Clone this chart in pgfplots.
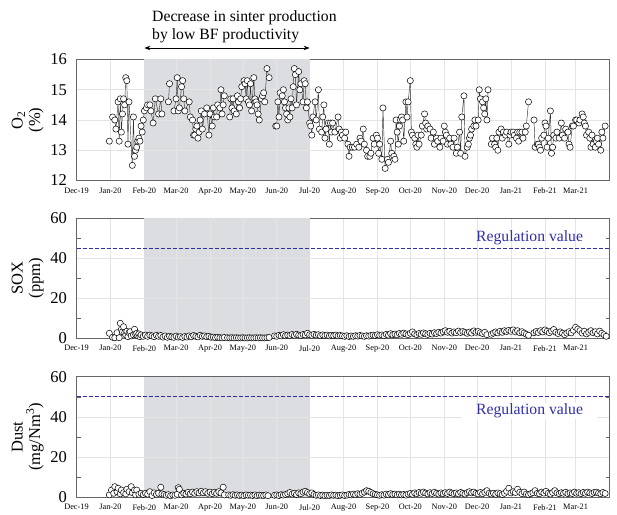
\documentclass[border=0pt]{standalone}
\usepackage{fontspec}
\setmainfont{Liberation Serif}
\usepackage{pgfplots}
\pgfplotsset{compat=1.18}
\usetikzlibrary{arrows.meta}

\definecolor{shade}{RGB}{220,221,224}
\definecolor{gridc}{RGB}{228,228,228}
\definecolor{regblue}{RGB}{48,48,160}

\pgfplotsset{
  panel/.style={
    scale only axis, width=533pt, clip=false,
    xmin=0, xmax=487,
    xtick={0,31,62,91,122,152,183,213,244,275,305,336,366,397,428,456},
    xticklabels={Dec-19,Jan-20,Feb-20,Mar-20,Apr-20,May-20,Jun-20,Jul-20,Aug-20,Sep-20,Oct-20,Nov-20,Dec-20,Jan-21,Feb-21,Mar-21},
    xticklabel style={font=\fontsize{8.3}{9}\selectfont, yshift=-3.5pt},
    yticklabel style={font=\fontsize{16.5}{17}\selectfont, xshift=-6pt},
    /pgf/number format/assume math mode=true,
    ylabel style={font=\fontsize{16.5}{17.5}\selectfont, align=center},
    grid=major, major grid style={draw=gridc, line width=0.7pt},
    axis line style={draw=black!60, line width=0.7pt},
    tick style={draw=black!60}, tick align=inside, major tick length=0pt,
    minor tick length=4pt,
    unbounded coords=jump,
  },
  series/.style={draw=black!80, line width=0.45pt, mark=*, mark size=3.1pt,
    mark options={fill=white, draw=black, line width=0.5pt}},
  band/.style={draw=none, fill=shade, mark=none},
}
% grid lines that run over the grey band: #1 ymin, #2 ymax, #3 y grid values
\newcommand{\bandgrid}[3]{%
  \pgfplotsinvokeforeach{91,122,152,183}{\draw[gridc, line width=0.7pt] (axis cs:##1,#1) -- (axis cs:##1,#2);}
  \pgfplotsinvokeforeach{#3}{\draw[gridc, line width=0.7pt] (axis cs:62,##1) -- (axis cs:213,##1);}
}

\begin{document}
\begin{tikzpicture}
\useasboundingbox (0pt,0pt) rectangle (617pt,514pt);

% ---- O2 ----
\begin{axis}[panel, at={(76.5pt,333.5pt)}, anchor=south west, height=121pt,
  ymin=12, ymax=16, ytick={12,13,14,15,16},
  ylabel={O\textsubscript{2}\\(\%)}]
\addplot[band] coordinates {(62,12) (62,16) (213,16) (213,12)};
\bandgrid{12}{16}{13,14,15}
\addplot[series] coordinates {
(30,13.3) (31,nan) (33,14.1) (35,14.0) (36,13.7) (38,14.6) (39,13.3) (40,14.7) (41,13.6) (42,14.2)
(43,14.7) (44,14.5) (45,15.4) (46,15.3) (47,13.2) (48,14.6) (51,12.5) (52,14.1) (53,12.8) (54,13.0)
(55,13.1) (56,13.3) (57,13.4) (58,13.3) (59,13.8) (60,13.6) (61,14.0) (62,14.3) (64,14.4) (65,14.5)
(67,14.5) (68,14.3) (70,13.9) (72,14.7) (75,14.2) (77,14.7) (78,14.2) (80,nan) (84,14.6) (85,15.2)
(87,nan) (89,14.3) (91,14.7) (92,15.4) (93,14.3) (94,14.4) (96,15.1) (97,15.3) (98,14.7) (99,14.3)
(103,14.6) (104,14.1) (106,14.0) (107,13.5) (108,13.5) (109,13.7) (110,13.8) (111,13.4) (112,13.6) (113,14.0)
(114,14.3) (115,13.7) (117,14.2) (119,14.4) (121,13.5) (122,14.2) (124,13.8) (125,14.4) (126,14.1) (128,14.1)
(129,14.5) (131,14.4) (132,15.0) (133,14.2) (134,14.5) (135,14.8) (137,nan) (140,14.1) (141,14.7) (142,14.4)
(143,14.7) (144,14.3) (146,14.2) (147,14.8) (148,14.6) (149,14.4) (150,14.7) (151,15.1) (153,15.3) (154,15.2)
(155,14.7) (156,15.3) (157,14.6) (158,14.5) (159,15.2) (160,14.3) (162,15.4) (163,14.7) (164,14.6) (165,14.5)
(166,14.2) (167,14.0) (169,14.7) (170,14.8) (171,14.9) (172,14.6) (174,15.7) (176,15.4) (178,nan) (182,13.8)
(183,13.8) (184,14.6) (185,14.1) (186,14.9) (188,14.8) (189,15.0) (190,14.6) (191,14.4) (192,14.2) (193,14.0)
(194,14.4) (195,14.1) (196,14.7) (197,14.4) (198,15.1) (199,15.7) (200,15.5) (201,14.5) (203,15.6) (204,15.0)
(205,15.2) (207,14.6) (208,15.3) (209,15.2) (210,14.4) (211,14.6) (213,13.9) (214,13.8) (215,13.5) (216,14.1)
(218,14.6) (219,14.0) (221,15.0) (222,13.7) (224,13.6) (225,14.1) (226,14.5) (227,13.4) (228,13.7) (230,13.9)
(231,13.2) (232,13.9) (233,13.6) (234,13.9) (236,13.6) (239,14.1) (240,13.7) (241,13.4) (242,13.6) (243,13.5)
(245,13.4) (246,13.6) (248,13.2) (249,12.8) (250,13.1) (252,13.1) (254,13.1) (256,13.2) (258,13.1) (259,13.4)
(260,13.3) (262,13.7) (263,13.2) (265,13.0) (266,12.8) (268,12.8) (269,12.9) (271,13.4) (272,13.2) (274,13.5)
(275,13.4) (276,12.9) (277,13.2) (279,12.7) (280,14.4) (282,12.4) (284,12.7) (285,12.6) (287,13.3) (288,12.9)
(290,12.8) (291,12.7) (292,14.0) (293,13.6) (294,13.2) (295,13.8) (296,14.0) (297,14.1) (298,14.0) (299,13.3)
(301,14.6) (302,14.1) (303,14.6) (305,15.3) (306,13.6) (307,13.5) (309,13.4) (310,13.2) (311,13.1) (312,13.5)
(313,13.2) (315,13.5) (316,13.8) (318,14.2) (319,13.9) (320,13.7) (321,13.8) (323,13.7) (324,13.4) (326,13.6)
(327,13.2) (329,13.4) (330,13.3) (332,13.1) (333,13.4) (335,13.3) (336,13.8) (337,13.6) (338,13.5) (339,13.2)
(341,13.4) (342,13.2) (344,13.1) (345,13.4) (347,12.9) (348,13.1) (350,13.6) (351,12.9) (352,14.1) (354,14.8)
(355,12.8) (357,13.1) (358,13.2) (359,13.4) (360,13.5) (361,13.7) (363,13.8) (364,14.0) (365,13.8) (367,14.0)
(368,15.0) (369,14.7) (371,14.6) (372,14.4) (373,14.2) (374,14.7) (375,14.0) (376,15.0) (377,nan) (379,13.2)
(380,13.4) (382,13.2) (383,13.1) (384,13.4) (385,13.0) (386,13.6) (388,13.7) (389,13.4) (390,13.6) (392,13.5)
(393,13.6) (395,13.2) (396,13.5) (397,13.6) (399,13.6) (400,13.5) (402,13.4) (403,13.6) (404,13.3) (405,13.6)
(407,13.6) (408,13.4) (410,13.6) (411,13.8) (413,14.6) (415,nan) (418,14.0) (419,13.1) (421,13.2) (422,13.2)
(423,13.1) (424,13.0) (425,13.4) (427,13.5) (428,13.9) (429,13.8) (430,13.1) (431,13.4) (433,14.3) (434,12.9)
(435,13.1) (436,13.5) (438,13.4) (439,13.6) (441,13.4) (443,13.9) (444,13.5) (446,13.4) (447,13.7) (449,13.6)
(450,13.2) (451,13.1) (453,13.8) (454,13.8) (456,14.0) (457,14.0) (459,13.9) (460,14.0) (462,14.2) (463,14.1)
(464,13.9) (465,13.8) (466,13.5) (468,13.6) (469,13.4) (470,13.1) (471,13.5) (472,13.2) (474,13.1) (475,13.3)
(476,13.4) (477,13.2) (479,13.0) (480,13.6) (481,13.4) (483,13.8)
};
\draw[{Stealth[length=6pt,width=4.5pt]}-{Stealth[length=6pt,width=4.5pt]}, line width=0.8pt]
  ([yshift=11.5pt]axis cs:62,16) -- ([yshift=11.5pt]axis cs:213,16);
\node[anchor=base west, inner sep=0pt, font=\fontsize{15.7}{16}\selectfont]
  at ([yshift=37.8pt]axis cs:69,16) {Decrease in sinter production};
\node[anchor=base west, inner sep=0pt, font=\fontsize{15.7}{16}\selectfont]
  at ([yshift=19.5pt]axis cs:69,16) {by low BF productivity};
\end{axis}

% ---- SOX ----
\begin{axis}[panel, at={(76.5pt,175.7pt)}, anchor=south west, height=120pt,
  ymin=0, ymax=60, ytick={0,20,40,60}, minor ytick={10,30,50},
  ylabel={SOX\\(ppm)}]
\addplot[band] coordinates {(62,0) (62,60) (213,60) (213,0)};
\bandgrid{0}{60}{20,40}
\addplot[regblue, line width=1pt, dash pattern=on 4pt off 2pt] coordinates {(0,45) (487,45)};
\addplot[series] coordinates {
(30,2.5) (33,0.5) (35,0.3) (37,2.8) (39,0.3) (40,7.5) (41,4.5) (42,3.2) (43,5.8) (44,2.8)
(45,1.7) (46,3.5) (47,0.8) (48,2.8) (49,3.3) (50,1.2) (52,1.7) (53,4.5) (54,2.0) (55,2.5)
(56,1.2) (57,2.2) (58,0.8) (59,1.7) (61,1.0) (63,1.6) (65,1.0) (67,1.6) (69,1.2) (71,0.8)
(73,1.5) (75,1.0) (77,1.4) (79,0.6) (81,1.2) (83,0.5) (85,1.0) (87,0.7) (89,0.5) (91,1.1)
(93,0.6) (95,0.8) (97,0.4) (99,0.9) (101,0.6) (103,1.2) (105,0.8) (107,1.4) (109,1.0) (111,0.7)
(113,1.5) (115,1.0) (117,1.2) (119,0.8) (121,1.0) (123,0.5) (125,0.6) (127,0.3) (129,0.5) (131,0.3)
(133,0.2) (135,0.4) (136,nan) (138,0.3) (140,0.2) (142,0.3) (144,0.2) (146,0.3) (148,0.2) (150,0.2)
(152,0.3) (154,0.2) (156,0.2) (158,0.3) (160,0.2) (162,0.2) (164,0.3) (166,0.2) (168,0.3) (170,0.2)
(172,0.2) (174,0.3) (176,0.4) (178,nan) (181,1.2) (183,1.0) (185,1.5) (187,1.2) (189,1.8) (191,1.3)
(193,1.6) (195,1.4) (197,1.9) (199,1.5) (201,2.0) (203,1.6) (205,1.4) (207,1.9) (209,1.7) (211,2.5)
(213,1.8) (215,1.5) (217,2.0) (219,1.6) (221,1.8) (223,1.3) (225,1.7) (227,1.4) (229,1.6) (231,1.2)
(233,1.5) (235,1.3) (237,1.6) (239,1.2) (241,1.4) (243,1.2) (245,1.0) (247,1.3) (249,0.9) (251,1.2)
(253,1.0) (255,1.3) (257,1.1) (259,1.4) (261,1.2) (263,1.0) (265,1.3) (267,1.1) (269,1.4) (271,1.6)
(273,1.4) (275,1.8) (277,1.5) (279,1.7) (281,1.3) (283,2.0) (285,1.6) (287,2.3) (289,1.8) (291,2.1)
(293,1.7) (295,2.4) (297,2.0) (299,2.6) (301,2.2) (303,1.8) (305,2.5) (307,3.2) (309,2.2) (311,1.8)
(313,2.4) (315,2.0) (317,2.7) (319,2.3) (321,1.9) (323,2.5) (325,2.1) (327,2.8) (329,2.4) (331,3.0)
(333,2.6) (335,3.3) (337,3.8) (339,3.0) (341,3.5) (343,2.6) (345,3.2) (347,2.8) (349,3.6) (351,2.9)
(353,3.4) (355,3.0) (357,2.5) (359,3.1) (361,2.6) (363,3.7) (365,3.0) (367,3.4) (369,2.8) (371,2.4)
(373,3.0) (375,1.8) (377,nan) (379,2.0) (381,2.6) (383,3.2) (385,2.7) (387,3.5) (389,3.0) (391,3.8)
(393,3.4) (395,4.0) (397,3.5) (399,4.2) (401,3.2) (403,3.8) (405,2.8) (407,3.3) (409,2.6) (411,2.0)
(413,1.5) (415,nan) (418,2.8) (420,3.4) (422,2.9) (424,3.8) (426,3.2) (428,4.2) (430,3.5) (432,2.8)
(434,3.6) (436,4.4) (438,3.0) (440,2.4) (442,3.2) (444,2.5) (446,1.8) (448,2.6) (450,3.3) (452,2.7)
(454,4.0) (456,5.5) (458,4.6) (460,3.8) (462,2.6) (464,3.5) (466,2.2) (468,3.0) (470,3.8) (472,2.8)
(474,3.3) (476,2.2) (478,3.6) (480,2.5) (482,1.8) (484,1.0)
};
\node[regblue, font=\fontsize{15.7}{16}\selectfont] at (axis cs:414,50.5) {Regulation value};
\end{axis}

% ---- Dust ----
\begin{axis}[panel, at={(76.5pt,16.7pt)}, anchor=south west, height=120.6pt,
  ymin=0, ymax=60, ytick={0,20,40,60}, minor ytick={10,30,50},
  ylabel={Dust\\(mg/Nm\textsuperscript{3})}]
\addplot[band] coordinates {(62,0) (62,60) (213,60) (213,0)};
\bandgrid{0}{60}{20,40}
\addplot[regblue, line width=1pt, dash pattern=on 4pt off 2pt] coordinates {(0,50) (487,50)};
\addplot[series] coordinates {
(30,1.2) (32,3.6) (34,2.0) (35,5.3) (37,2.8) (38,4.5) (40,1.7) (41,3.6) (43,2.3) (45,1.7)
(46,4.0) (48,2.8) (50,5.3) (51,2.3) (53,3.6) (54,1.2) (55,3.6) (57,1.5) (59,2.0) (61,1.4)
(63,2.0) (65,1.6) (67,2.8) (69,0.9) (71,2.2) (73,1.5) (75,2.0) (77,5.0) (78,1.7) (80,1.4)
(82,1.0) (84,1.3) (86,0.8) (88,1.2) (90,1.0) (92,1.5) (93,4.8) (94,4.0) (96,1.2) (98,2.0)
(100,1.6) (102,2.5) (104,1.8) (106,2.6) (108,2.0) (110,2.8) (112,2.2) (114,3.0) (116,2.3) (118,2.8)
(120,2.0) (122,2.6) (124,1.8) (126,2.5) (128,2.0) (130,2.8) (132,2.2) (134,5.0) (135,1.2) (136,nan)
(139,1.2) (141,1.0) (143,1.3) (145,1.0) (147,1.2) (149,0.9) (151,1.1) (153,0.8) (155,1.2) (157,1.0)
(159,1.1) (161,0.9) (163,1.2) (165,0.8) (167,1.1) (169,1.0) (171,0.9) (173,1.2) (175,0.8) (176,nan)
(181,1.0) (183,1.2) (185,0.9) (187,1.3) (189,1.1) (191,1.4) (193,1.8) (195,2.4) (197,1.6) (199,2.0)
(201,1.4) (203,2.2) (205,1.8) (207,2.6) (209,3.0) (211,2.4) (213,1.8) (215,2.2) (217,1.4) (219,1.0)
(221,1.2) (223,0.9) (225,1.1) (227,0.8) (229,1.0) (231,0.9) (233,1.2) (235,1.0) (237,1.1) (239,0.8)
(241,1.0) (243,1.2) (245,0.9) (247,1.1) (249,1.4) (251,1.2) (253,1.6) (255,1.3) (257,1.8) (259,1.5)
(261,2.0) (263,2.6) (265,3.3) (267,3.0) (269,2.4) (271,1.8) (273,1.5) (275,1.2) (277,1.0) (279,1.3)
(281,1.1) (283,1.6) (285,1.3) (287,1.8) (289,1.4) (291,1.6) (293,1.2) (295,1.5) (297,1.2) (299,1.4)
(301,1.1) (303,1.6) (305,1.9) (307,1.5) (309,2.2) (311,1.8) (313,2.4) (315,2.0) (317,2.6) (319,2.1)
(321,1.7) (323,2.3) (325,1.9) (327,2.5) (329,2.0) (331,1.6) (333,2.2) (335,1.8) (337,2.3) (339,1.9)
(341,2.6) (343,2.1) (345,1.8) (347,2.2) (349,1.7) (351,2.4) (353,2.0) (355,1.6) (357,2.3) (359,2.8)
(361,2.2) (363,2.6) (365,2.0) (367,1.7) (369,2.4) (371,1.8) (373,2.5) (375,3.3) (377,2.0) (379,1.6)
(381,2.0) (383,1.5) (385,2.2) (387,1.8) (389,1.4) (391,2.0) (393,3.0) (395,4.5) (397,2.2) (399,2.8)
(401,2.4) (403,4.0) (405,2.5) (407,1.8) (409,2.6) (411,1.6) (413,1.3) (415,1.8) (417,2.3) (419,3.3)
(421,2.0) (423,1.8) (425,2.6) (427,2.1) (429,3.0) (431,2.0) (433,1.6) (435,2.4) (437,3.3) (439,2.2)
(441,1.8) (443,2.3) (445,2.0) (447,2.5) (449,1.8) (451,2.2) (453,1.9) (455,2.6) (457,2.0) (459,2.3)
(461,1.8) (463,2.4) (465,2.0) (467,2.6) (469,2.2) (471,1.9) (473,2.4) (475,2.6) (477,2.1) (479,1.8)
(481,2.4) (483,1.9)
};
\node[regblue, fill=white, inner xsep=14pt, inner ysep=1pt, font=\fontsize{15.7}{16}\selectfont] at (axis cs:414,43.1) {Regulation value};
\end{axis}
\end{tikzpicture}
\end{document}
